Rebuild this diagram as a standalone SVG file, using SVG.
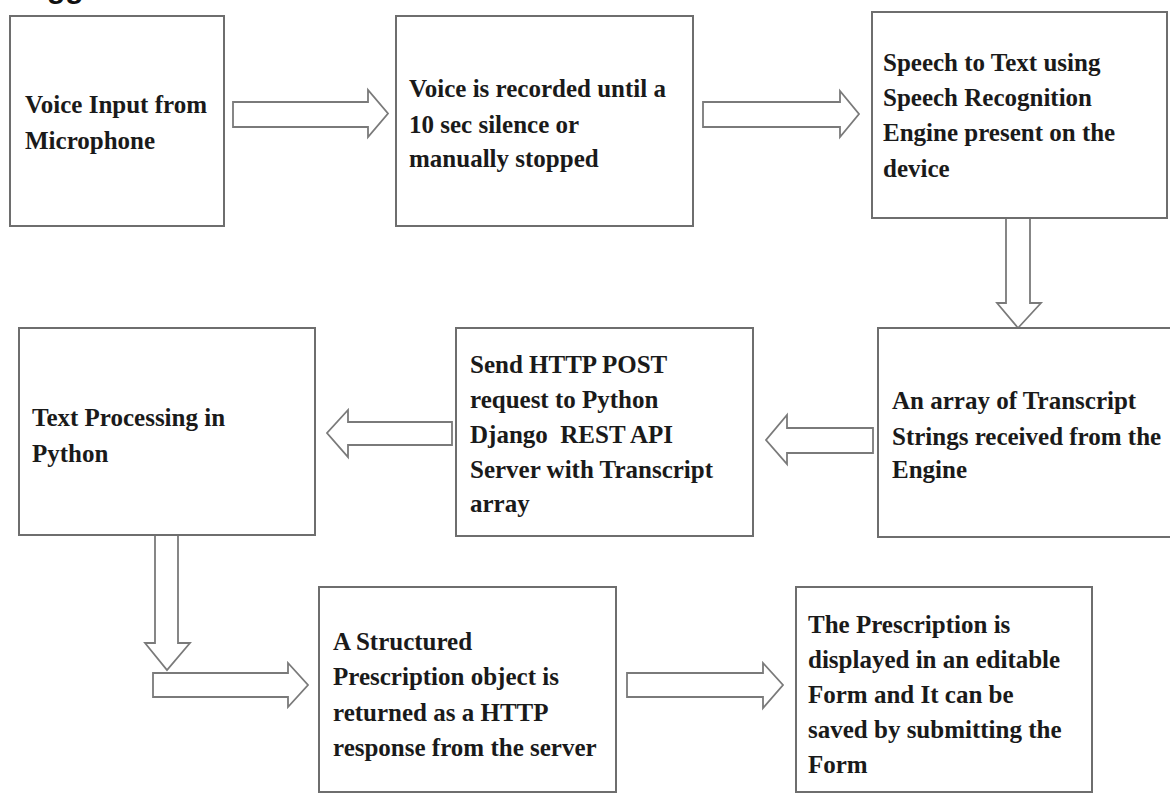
<svg xmlns="http://www.w3.org/2000/svg" width="1170" height="794" viewBox="0 0 1170 794">
<style>
.box{fill:#ffffff;stroke:#6e6e6e;stroke-width:2}
.arr{fill:#ffffff;stroke:#7a7a7a;stroke-width:1.8;stroke-linejoin:miter}
.t{font-family:"Liberation Serif","Times New Roman",serif;font-weight:bold;font-size:25px;fill:#1a1a1a;white-space:pre}
.cut{font-family:"Liberation Sans",Arial,sans-serif;font-weight:bold;font-size:30px;fill:#111}
</style>
<rect width="1170" height="794" fill="#ffffff"/>
<text class="cut" x="47" y="-2">gg</text>
<g id="connectors">
<polygon class="arr" points="233,102 368,102 368,90 388,113.5 368,137 368,127 233,127"/>
<polygon class="arr" points="703,102 840,102 840,91 859,114 840,137 840,127 703,127"/>
<polygon class="arr" points="1006,218 1030,218 1030,303 1041,303 1018,328 997,303 1006,303"/>
<polygon class="arr" points="873,428 787,428 787,415 766,440 787,464 787,453 873,453"/>
<polygon class="arr" points="452,422 348,422 348,410 327,433 348,457 348,445 452,445"/>
<polygon class="arr" points="155,535 178,535 178,643 190,643 167,670 145,643 155,643"/>
<polygon class="arr" points="153,673 288,673 288,663 308,685 288,707 288,697 153,697"/>
<polygon class="arr" points="627,673 763,673 763,663 783,685 763,708 763,697 627,697"/>
</g>
<g id="node1">
<rect class="box" x="10" y="16" width="214" height="210"/>
<text class="t" x="25" y="113">Voice Input from</text>
<text class="t" x="25" y="149">Microphone</text>
</g>
<g id="node2">
<rect class="box" x="396" y="16" width="297" height="210"/>
<text class="t" x="409" y="97">Voice is recorded until a</text>
<text class="t" x="409" y="133">10 sec silence or</text>
<text class="t" x="409" y="167">manually stopped</text>
</g>
<g id="node3">
<rect class="box" x="872" y="12" width="295" height="206"/>
<text class="t" x="883" y="71">Speech to Text using</text>
<text class="t" x="883" y="106">Speech Recognition</text>
<text class="t" x="883" y="141">Engine present on the</text>
<text class="t" x="883" y="177">device</text>
</g>
<g id="node4">
<rect class="box" x="878" y="328" width="300" height="209"/>
<text class="t" x="892" y="409">An array of Transcript</text>
<text class="t" x="892" y="445">Strings received from the</text>
<text class="t" x="892" y="478">Engine</text>
</g>
<g id="node5">
<rect class="box" x="456" y="328" width="297" height="208"/>
<text class="t" x="470" y="373">Send HTTP POST</text>
<text class="t" x="470" y="408">request to Python</text>
<text class="t" x="470" y="443">Django  REST API</text>
<text class="t" x="470" y="478">Server with Transcript</text>
<text class="t" x="470" y="512">array</text>
</g>
<g id="node6">
<rect class="box" x="19" y="328" width="296" height="207"/>
<text class="t" x="32" y="426">Text Processing in</text>
<text class="t" x="32" y="462">Python</text>
</g>
<g id="node7">
<rect class="box" x="319" y="587" width="297" height="205"/>
<text class="t" x="333" y="650">A Structured</text>
<text class="t" x="333" y="685">Prescription object is</text>
<text class="t" x="333" y="721">returned as a HTTP</text>
<text class="t" x="333" y="756">response from the server</text>
</g>
<g id="node8">
<rect class="box" x="796" y="587" width="296" height="205"/>
<text class="t" x="808" y="633">The Prescription is</text>
<text class="t" x="808" y="668">displayed in an editable</text>
<text class="t" x="808" y="703">Form and It can be</text>
<text class="t" x="808" y="738">saved by submitting the</text>
<text class="t" x="808" y="773">Form</text>
</g>
</svg>
